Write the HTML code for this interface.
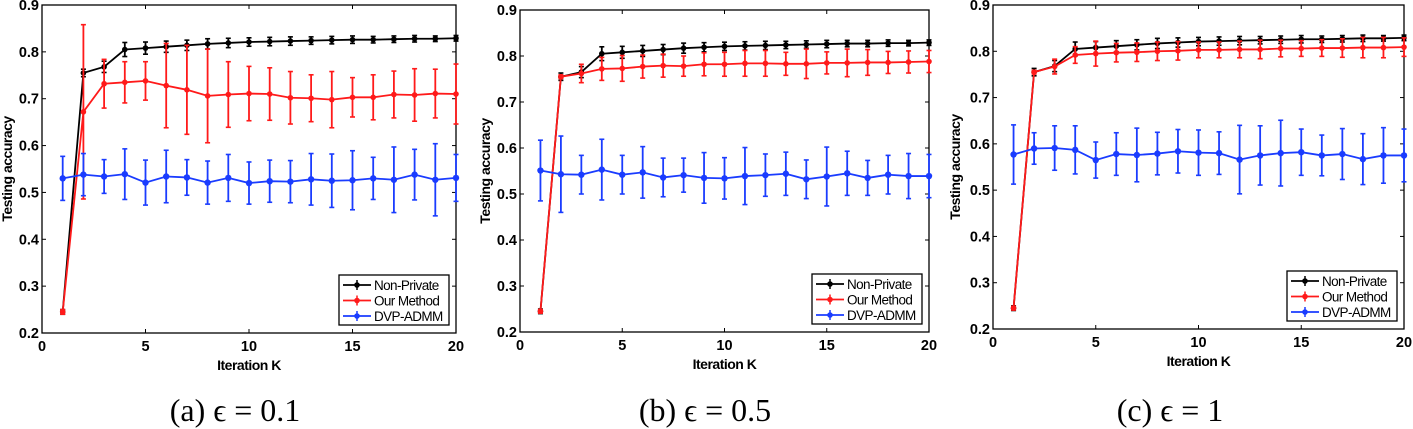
<!DOCTYPE html>
<html><head><meta charset="utf-8">
<style>
body{margin:0;background:#fff;width:1413px;height:429px;overflow:hidden}
svg{display:block}
text{font-family:"Liberation Sans",sans-serif}
.cap{font-family:"Liberation Serif",serif;font-size:32px}
</style></head>
<body>
<svg id="chart" width="1413" height="429" viewBox="0 0 1413 429" xmlns="http://www.w3.org/2000/svg"></svg>
<script>
const iterations=[1,2,3,4,5,6,7,8,9,10,11,12,13,14,15,16,17,18,19,20];
const xTicks=[0,5,10,15,20];
const yTicks=[0.2,0.3,0.4,0.5,0.6,0.7,0.8,0.9];
const seriesNames=["Non-Private","Our  Method","DVP-ADMM"];
const captions=["(a) ϵ = 0.1","(b) ϵ = 0.5","(c) ϵ = 1"];
const npA=[0.245,0.755,0.768,0.805,0.808,0.811,0.814,0.817,0.819,0.821,0.822,0.823,0.824,0.825,0.826,0.826,0.827,0.828,0.828,0.829];
const npErr=[0.005,0.008,0.012,0.015,0.013,0.012,0.011,0.011,0.01,0.009,0.009,0.009,0.008,0.008,0.008,0.007,0.007,0.007,0.006,0.006];
const ourA=[0.245,0.672,0.732,0.735,0.738,0.728,0.719,0.706,0.709,0.711,0.71,0.702,0.701,0.698,0.703,0.703,0.709,0.708,0.711,0.71];
const ourAErr=[0.005,0.186,0.052,0.044,0.041,0.09,0.095,0.1,0.07,0.058,0.056,0.056,0.05,0.06,0.042,0.048,0.05,0.056,0.052,0.064];
const dvpA=[0.53,0.538,0.534,0.539,0.521,0.534,0.532,0.521,0.531,0.52,0.524,0.523,0.528,0.525,0.526,0.53,0.527,0.538,0.527,0.531];
const dvpAErr=[0.047,0.045,0.036,0.054,0.048,0.056,0.038,0.046,0.05,0.045,0.045,0.045,0.055,0.057,0.063,0.045,0.07,0.054,0.077,0.05];
const npB=[0.245,0.755,0.765,0.805,0.808,0.811,0.814,0.817,0.819,0.821,0.822,0.823,0.824,0.825,0.826,0.827,0.827,0.828,0.828,0.829];
const ourB=[0.245,0.755,0.762,0.772,0.773,0.777,0.779,0.778,0.782,0.782,0.784,0.784,0.783,0.783,0.785,0.785,0.786,0.786,0.787,0.788];
const ourBErr=[0.004,0.004,0.02,0.025,0.028,0.025,0.025,0.022,0.025,0.026,0.028,0.028,0.025,0.032,0.024,0.03,0.028,0.024,0.024,0.024];
const dvpB=[0.551,0.543,0.542,0.553,0.542,0.547,0.536,0.541,0.535,0.534,0.539,0.541,0.544,0.532,0.538,0.545,0.535,0.542,0.539,0.539];
const dvpBErr=[0.066,0.083,0.042,0.066,0.042,0.056,0.042,0.037,0.055,0.045,0.062,0.046,0.047,0.042,0.064,0.048,0.038,0.042,0.049,0.047];
const npC=[0.245,0.755,0.768,0.805,0.808,0.811,0.814,0.817,0.819,0.821,0.822,0.823,0.824,0.825,0.826,0.826,0.827,0.828,0.828,0.829];
const ourC=[0.245,0.755,0.767,0.792,0.795,0.797,0.798,0.8,0.801,0.803,0.803,0.804,0.804,0.806,0.806,0.807,0.807,0.808,0.808,0.809];
const ourCErr=[0.004,0.004,0.016,0.018,0.027,0.02,0.02,0.02,0.02,0.017,0.017,0.018,0.02,0.018,0.017,0.018,0.02,0.022,0.022,0.02];
const dvpC=[0.577,0.59,0.591,0.587,0.565,0.578,0.576,0.579,0.584,0.581,0.58,0.566,0.575,0.58,0.582,0.575,0.578,0.567,0.575,0.575];
const dvpCErr=[0.064,0.034,0.048,0.052,0.039,0.046,0.058,0.046,0.047,0.049,0.046,0.074,0.064,0.071,0.05,0.044,0.055,0.055,0.06,0.057];

const panelData=[
 {np:npA,npE:npErr,our:ourA,ourE:ourAErr,dvp:dvpA,dvpE:dvpAErr},
 {np:npB,npE:npErr,our:ourB,ourE:ourBErr,dvp:dvpB,dvpE:dvpBErr},
 {np:npC,npE:npErr,our:ourC,ourE:ourCErr,dvp:dvpC,dvpE:dvpCErr}
];
const layout=[
 {x0:42,x1:456,yT:5,yB:333,ylab:12,cap:235},
 {x0:520,x1:929,yT:10,yB:332,ylab:490,cap:705},
 {x0:993,x1:1404,yT:5,yB:329,ylab:960,cap:1170}
];
const colors=["#000000","#ff1a1a","#1a3cff"];
const NS="http://www.w3.org/2000/svg";
const svg=document.getElementById('chart');
function mk(tag,attrs,parent){const e=document.createElementNS(NS,tag);for(const k in attrs)e.setAttribute(k,attrs[k]);(parent||svg).appendChild(e);return e;}

layout.forEach((L,pi)=>{
 const D=panelData[pi];
 const g=mk('g',{});
 
 
 const sx=v=>L.x0+(v-0)/(20-0)*(L.x1-L.x0);
 const sy=v=>L.yB-(v-0.2)/(0.9-0.2)*(L.yB-L.yT);
 const frame=mk('rect',{x:L.x0,y:L.yT,width:L.x1-L.x0,height:L.yB-L.yT,fill:'none',stroke:'#000','stroke-width':1.3},g);
 
 
 xTicks.forEach(t=>{
  mk('line',{x1:sx(t),x2:sx(t),y1:L.yB,y2:L.yB-4,stroke:'#000'},g);
  mk('line',{x1:sx(t),x2:sx(t),y1:L.yT,y2:L.yT+4,stroke:'#000'},g);
  const tx=mk('text',{x:sx(t),y:L.yB+18,'text-anchor':'middle','font-size':14.5,'font-weight':'bold'},g);
  tx.textContent=t;
  
  
 });
 yTicks.forEach(t=>{
  mk('line',{x1:L.x0,x2:L.x0+4,y1:sy(t),y2:sy(t),stroke:'#000'},g);
  mk('line',{x1:L.x1,x2:L.x1-4,y1:sy(t),y2:sy(t),stroke:'#000'},g);
  const tx=mk('text',{x:L.x0-3,y:sy(t)+5,'text-anchor':'end','font-size':14.5,'font-weight':'bold'},g);
  tx.textContent=t.toFixed(1);
  
  
 });
 const xl=mk('text',{x:(L.x0+L.x1)/2,y:L.yB+37,'text-anchor':'middle','font-size':14,'font-weight':'bold','letter-spacing':'-0.5'},g);
 xl.textContent='Iteration K';
 
 
 const cy=(L.yT+L.yB)/2;
 const yl=mk('text',{x:L.ylab,y:cy,'text-anchor':'middle','font-size':14,'font-weight':'bold','letter-spacing':'-0.5',transform:`rotate(-90 ${L.ylab} ${cy})`},g);
 yl.textContent='Testing accuracy';
 
 
 const sets=[[D.np,D.npE],[D.our,D.ourE],[D.dvp,D.dvpE]];
 sets.forEach((s,si)=>{
  const c=colors[si];
  const sg=mk('g',{},g);
  
  
  const pts=iterations.map((k,i)=>sx(k)+','+sy(s[0][i])).join(' ');
  mk('polyline',{points:pts,fill:'none',stroke:c,'stroke-width':1.8},sg);
  iterations.forEach((k,i)=>{
   const x=sx(k),v=s[0][i],e=s[1][i];
   const y1=sy(v+e),y2=sy(v-e);
   mk('line',{x1:x,x2:x,y1:y1,y2:y2,stroke:c,'stroke-width':1.8},sg);
   mk('line',{x1:x-2.5,x2:x+2.5,y1:y1,y2:y1,stroke:c,'stroke-width':1.6},sg);
   mk('line',{x1:x-2.5,x2:x+2.5,y1:y2,y2:y2,stroke:c,'stroke-width':1.6},sg);
   const m=mk('circle',{cx:x,cy:sy(v),r:si==2?3.2:2.8,fill:c},sg);
   
   
  });
 });
 const lw=110,lh=50,lx=L.x1-7-lw,ly=L.yB-8-lh;
 const lg=mk('g',{},g);
 
 
 mk('rect',{x:lx,y:ly,width:lw,height:lh,fill:'#fff',stroke:'#000','stroke-width':1.3},lg);
 seriesNames.forEach((n,si)=>{
  const yy=ly+10+si*15.5;
  mk('line',{x1:lx+4,x2:lx+32,y1:yy,y2:yy,stroke:colors[si],'stroke-width':1.8},lg);
  mk('line',{x1:lx+18,x2:lx+18,y1:yy-5,y2:yy+5,stroke:colors[si],'stroke-width':1.5},lg);
  mk('circle',{cx:lx+18,cy:yy,r:2.8,fill:colors[si]},lg);
  const t=mk('text',{x:lx+35,y:yy+5,'font-size':13.5,'letter-spacing':'-0.6'},lg);
  t.textContent=n;
  
  
 });
 const cp=mk('text',{x:L.cap,y:421,'text-anchor':'middle',class:'cap'},g);
 cp.textContent=captions[pi];
 
 
});
</script>
</body></html>
